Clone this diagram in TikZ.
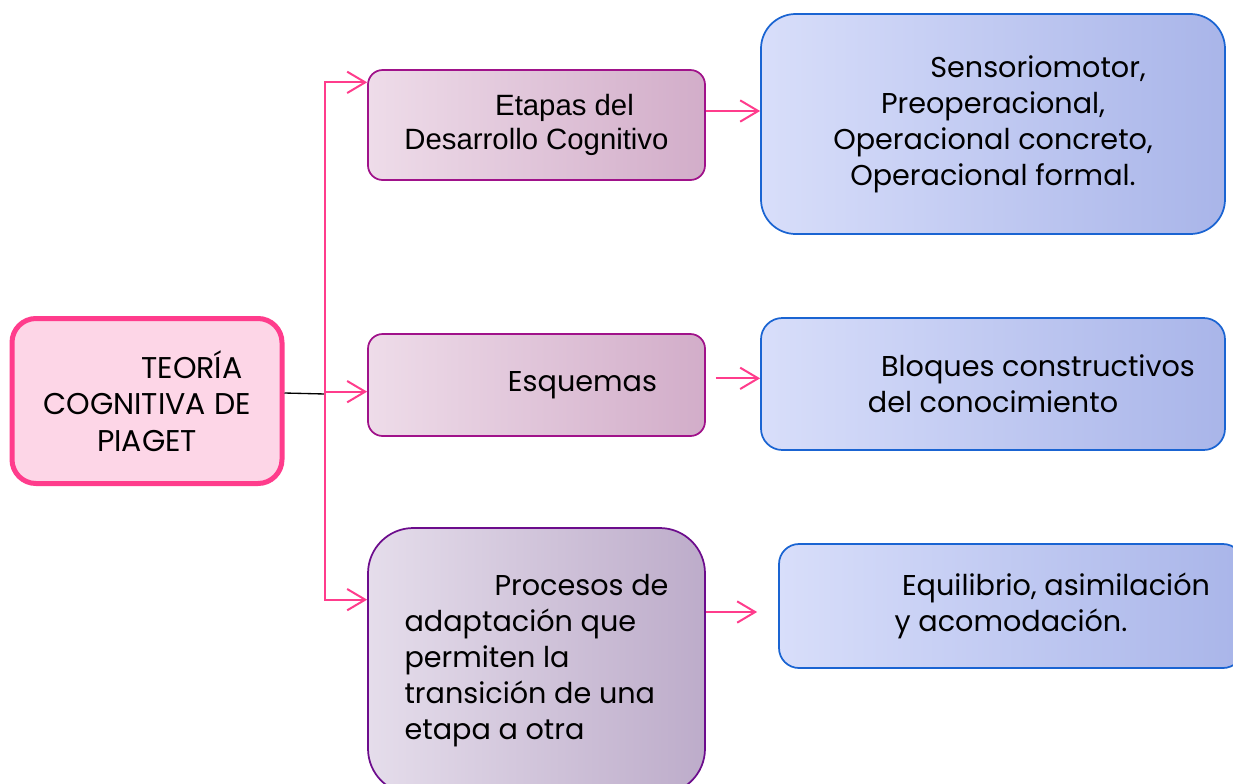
\documentclass[tikz,border=0pt]{standalone}
\usepackage{fontspec}
\setmainfont{Poppins}
\newfontfamily\arialfont{Liberation Sans}
\usetikzlibrary{arrows.meta,positioning}
\definecolor{rosaborde}{HTML}{FF3C8C}
\definecolor{rosafondo}{HTML}{FDD6E7}
\definecolor{moradoborde}{HTML}{A0128A}
\definecolor{moradoA}{HTML}{EEDCE9}
\definecolor{moradoB}{HTML}{D2ADC9}
\definecolor{lilaborde}{HTML}{6C0C8C}
\definecolor{lilaA}{HTML}{E5DDEB}
\definecolor{lilaB}{HTML}{BDACCA}
\definecolor{azulborde}{HTML}{1A64D2}
\definecolor{azulA}{HTML}{D8DEFA}
\definecolor{azulB}{HTML}{A9B5E9}
\begin{document}
\begin{tikzpicture}[x=0.75pt,y=-0.75pt,
txt/.style={
font=\fontsize{21.5}{27}\selectfont,
align=center
},
teoria/.style={
% the main box
txt,
font=\fontsize{22.5}{27.5}\selectfont,
rectangle,rounded corners=18pt,
draw=rosaborde,line width=3.75pt,
fill=rosafondo,
minimum width=202.5pt,minimum height=123.75pt
},
etapa/.style={
txt,
rectangle,rounded corners=11pt,
draw=moradoborde,line width=1.3pt,
left color=moradoA,right color=moradoB,
minimum width=252.75pt
},
proceso/.style={
txt,
rectangle,rounded corners=34pt,
draw=lilaborde,line width=1.3pt,
left color=lilaA,right color=lilaB,
minimum width=252.75pt
},
detalle/.style={
txt,
rectangle,
draw=azulborde,line width=1.3pt,
left color=azulA,right color=azulB,
minimum width=348pt
},
flecha/.style={
draw=rosaborde,line width=1.5pt,
-{Straight Barb[length=13.5pt,width=16pt]}
}
]
\useasboundingbox (0,0) rectangle (1233,783);
% left: main concept
\node (teoria) [teoria] at (147,401) {\hspace*{67.5pt}TEORÍA\\COGNITIVA DE\\PIAGET};
% middle column
\node (etapas) [etapa,minimum height=82.5pt,font=\arialfont\fontsize{22}{25}\selectfont] at (536.5,125)
{\hspace*{42pt}Etapas del\\Desarrollo Cognitivo};
\node (esquemas) [etapa,minimum height=76.5pt] at (536.5,385) {\hspace*{69pt}Esquemas};
\node (procesos) [proceso,align=left,minimum height=199.5pt] at (536.5,661)
{\hspace*{67.5pt}Procesos de\\adaptación que\\permiten la\\transición de una\\etapa a otra};
% right column
\node (sensorio) [detalle,rounded corners=26pt,minimum height=165pt] at (993,124)
{\hspace*{67.5pt}Sensoriomotor,\\Preoperacional,\\Operacional concreto,\\Operacional formal.};
\node (bloques) [detalle,rounded corners=16pt,minimum height=99pt] at (993,384)
{\hspace*{67.5pt}Bloques constructivos\\del conocimiento};
\node (equilibrio) [detalle,rounded corners=15pt,minimum height=93pt] at (1011,606)
{\hspace*{67.5pt}Equilibrio, asimilación\\y acomodación.};
% connectors
\coordinate (hub) at (325,394);
\draw[line width=1pt] ([yshift=6pt]teoria.east) -- (hub);
\draw[flecha] (hub) |- ([yshift=32pt]etapas.west);
\draw[flecha] (hub) |- ([yshift=-5pt]esquemas.west);
\draw[flecha] (hub) |- ([yshift=46pt]procesos.west);
\coordinate (s1) at ([yshift=10.5pt]etapas.east);
\draw[flecha] (s1) -- (s1 -| sensorio.west);
\coordinate (s2) at ([xshift=7.5pt,yshift=5pt]esquemas.east);
\draw[flecha] (s2) -- (s2 -| bloques.west);
\coordinate (s3) at ([yshift=36.75pt]procesos.east);
\coordinate (e3) at ([xshift=-15.75pt]s3 -| equilibrio.west);
\draw[flecha] (s3) -- (e3);
\end{tikzpicture}
\end{document}
